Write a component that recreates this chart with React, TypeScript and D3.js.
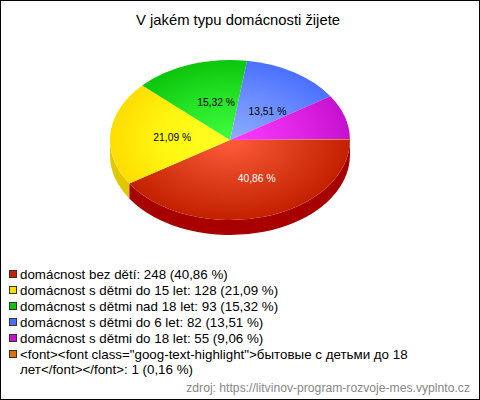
import React from "react";
import * as d3 from "d3";

const title = "V jakém typu domácnosti žijete";
const categories = [
  "domácnost bez dětí",
  "domácnost s dětmi do 15 let",
  "domácnost s dětmi nad 18 let",
  "domácnost s dětmi do 6 let",
  "domácnost s dětmi do 18 let",
  '<font><font class="goog-text-highlight">бытовые с детьми до 18 лет</font></font>',
];
const counts = [248, 128, 93, 82, 55, 1];
const percents = ["40,86", "21,09", "15,32", "13,51", "9,06", "0,16"];
const legendLines = [
  "domácnost bez dětí: 248 (40,86 %)",
  "domácnost s dětmi do 15 let: 128 (21,09 %)",
  "domácnost s dětmi nad 18 let: 93 (15,32 %)",
  "domácnost s dětmi do 6 let: 82 (13,51 %)",
  "domácnost s dětmi do 18 let: 55 (9,06 %)",
  '<font><font class="goog-text-highlight">бытовые с детьми до 18',
];
const legendWrap = "лет</font></font>: 1 (0,16 %)";
const source = "zdroj: https://litvinov-program-rozvoje-mes.vyplnto.cz";
const edgeColors = ["#c42000", "#ffdd00", "#0cc50c", "#4a70ff", "#c610d0", "#e07000"];
const midColors = ["#dc3c1a", "#fff712", "#25e225", "#6c8eff", "#e226e8", "#f08018"];
const centerColors = ["#ff5c3c", "#ffff22", "#3eff3e", "#8eacff", "#ff3cff", "#ff9030"];
const sideColors = ["#a80000", "#e0c800", "#0a9a0a", "#3a58c8", "#9a0ca0", "#b05800"];
const labelColors = ["#ffffff", "#000000", "#000000", "#000000", "#000000", "#000000"];
const labelMin = 10;

const cx = 230, cy = 140, rx = 120, ry = 80, depth = 15;
const font = "Arial, 'Liberation Sans', sans-serif";

export default function App() {
  const total = d3.sum(counts);
  const pie = d3
    .pie<number>()
    .sort(null)
    .startAngle(Math.PI / 2)
    .endAngle(Math.PI / 2 + 2 * Math.PI);
  const arcs = pie(counts);
  const arc = d3.arc<d3.PieArcDatum<number>>().innerRadius(0).outerRadius(rx);

  // screen angle measured clockwise from east
  const sidePath = (a: d3.PieArcDatum<number>) => {
    const a0 = a.startAngle - Math.PI / 2;
    const a1 = Math.min(a.endAngle - Math.PI / 2, Math.PI);
    if (a0 >= Math.PI) return null;
    const p = (t: number, dy = 0) => `${rx * Math.cos(t)},${ry * Math.sin(t) + dy}`;
    return `M${p(a0)}A${rx},${ry} 0 0 1 ${p(a1)}L${p(a1, depth)}A${rx},${ry} 0 0 0 ${p(a0, depth)}Z`;
  };

  return (
    <svg
      width={480}
      height={400}
      style={{ position: "absolute", left: 0, top: 0, fontFamily: font }}
    >
      <defs>
        {arcs.map((_, i) => (
          <radialGradient key={i} id={`g${i}`} gradientUnits="userSpaceOnUse" cx={0} cy={0} r={rx}>
            <stop offset="0" stopColor={centerColors[i]} />
            <stop offset="0.55" stopColor={midColors[i]} />
            <stop offset="1" stopColor={edgeColors[i]} />
          </radialGradient>
        ))}
      </defs>
      <rect x={0.5} y={0.5} width={479} height={399} fill="#fff" stroke="#000" />
      <text x={238} y={25} textAnchor="middle" fontSize={14.8} fill="#000">
        {title}
      </text>
      <g transform={`translate(${cx},${cy})`}>
        {arcs.map((a, i) => {
          const d = sidePath(a);
          return d ? <path key={i} d={d} fill={sideColors[i]} /> : null;
        })}
        <g transform={`scale(1,${ry / rx})`}>
          {arcs.map((a, i) => (
            <path key={i} d={arc(a) ?? ""} fill={`url(#g${i})`} />
          ))}
        </g>
        {arcs.map((a, i) => {
          if ((counts[i] / total) * 100 < labelMin) return null;
          const m = (a.startAngle + a.endAngle) / 2 - Math.PI / 2;
          const upper = Math.sin(m) < 0 && Math.cos(m) > 0;
          const x = 66 * Math.cos(m) + 8 - (upper ? 6 : 0);
          const y = 0.5 * ry * Math.sin(m) + (upper ? 5 : 0);
          return (
            <text
              key={i}
              x={x}
              y={y + 4}
              textAnchor="middle"
              fontSize={10.3}
              fill={labelColors[i]}
            >
              {percents[i]} %
            </text>
          );
        })}
      </g>
      {legendLines.map((line, i) => (
        <g key={categories[i]}>
          <rect x={9.5} y={270.5 + i * 16} width={7} height={7} fill={edgeColors[i]} stroke="#333" />
          <text x={20} y={279 + i * 16} fontSize={13.35} fill="#000">
            {line}
          </text>
        </g>
      ))}
      <text x={20} y={374} fontSize={13.35} fill="#000">
        {legendWrap}
      </text>
      <text x={470} y={392} textAnchor="end" fontSize={12.17} fill="#888">
        {source}
      </text>
    </svg>
  );
}
